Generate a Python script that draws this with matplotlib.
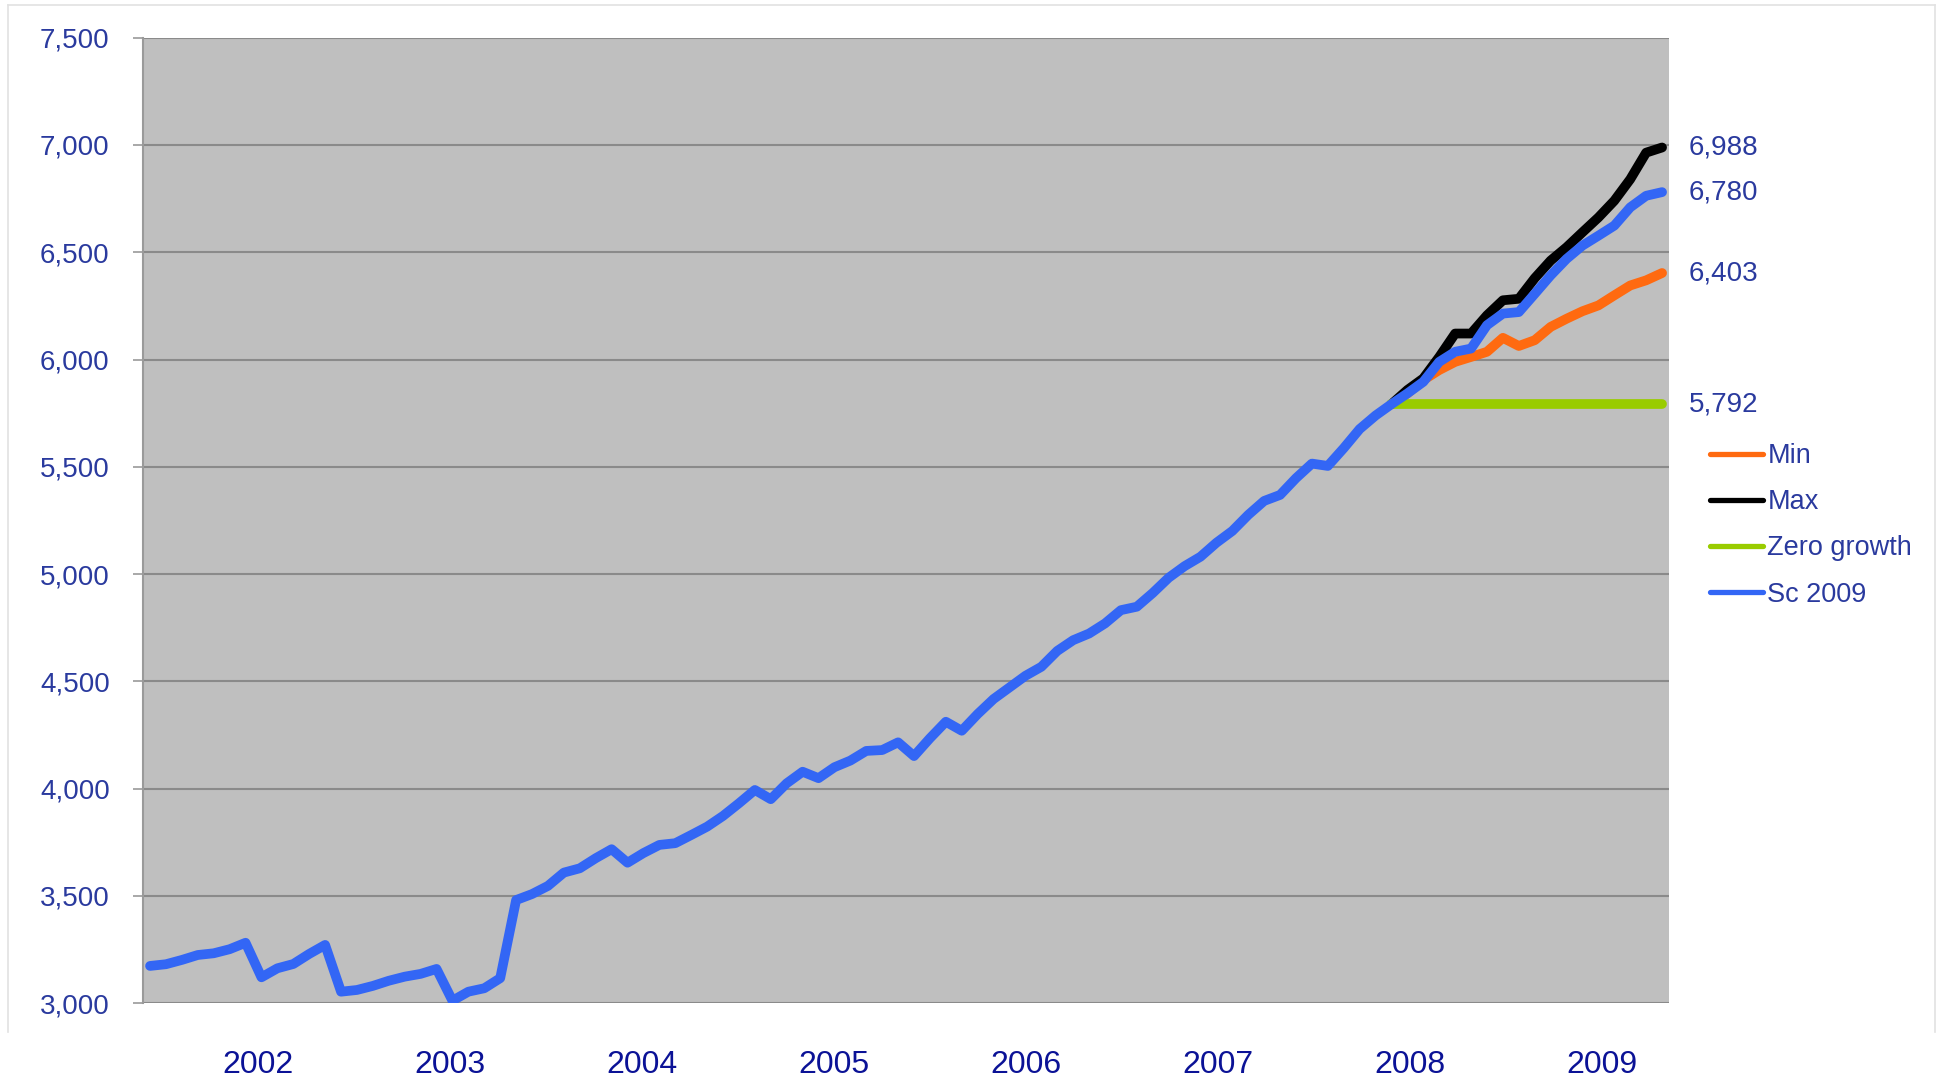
import numpy as np
import matplotlib
matplotlib.use("Agg")
import matplotlib.pyplot as plt
from matplotlib.lines import Line2D

plt.rcParams['font.family'] = ['Liberation Sans', 'DejaVu Sans']

# monthly series, Dec 2001 .. Nov 2009
sc2009 = [3174, 3182, 3202, 3225, 3233, 3252, 3282, 3121, 3163, 3183,
          3230, 3272, 3054, 3062, 3081, 3105, 3124, 3137, 3160, 3012,
          3054, 3070, 3117, 3481, 3509, 3547, 3609, 3629, 3676, 3718,
          3655, 3700, 3738, 3746, 3784, 3823, 3873, 3932, 3994, 3951,
          4025, 4079, 4049, 4100, 4131, 4176, 4180, 4216, 4152, 4235,
          4312, 4270, 4348, 4418, 4472, 4526, 4568, 4642, 4692, 4723,
          4770, 4832, 4848, 4912, 4983, 5037, 5081, 5146, 5201, 5276,
          5341, 5369, 5447, 5515, 5504, 5587, 5676, 5739, 5792, 5842,
          5896, 5989, 6036, 6051, 6160, 6214, 6221, 6306, 6392, 6469,
          6531, 6577, 6624, 6709, 6763, 6780]
# scenarios start from the last actual month (index 78)
start = 78
min_vals = [5792, 5842, 5904, 5951, 5989, 6012, 6036, 6101, 6063, 6090,
            6152, 6190, 6225, 6252, 6299, 6345, 6369, 6403]
max_vals = [5792, 5858, 5912, 6012, 6121, 6121, 6206, 6276, 6283, 6379,
            6461, 6523, 6593, 6662, 6740, 6840, 6964, 6988]
zero_vals = [5792] * 18

years = ['2002', '2003', '2004', '2005', '2006', '2007', '2008', '2009']
end_labels = ['6,988', '6,780', '6,403', '5,792']
end_values = [6988, 6780, 6403, 5792]

x = np.arange(len(sc2009))
xs = np.arange(start, start + len(min_vals))

fig = plt.figure(figsize=(19.41, 10.81), dpi=100)
ax = fig.add_axes([0.0737, 0.0719, 0.7862, 0.8933])
ax.set_facecolor('#bfbfbf')

lw = 7
ax.plot(xs, min_vals, color='#ff6a10', lw=lw, solid_capstyle='round', label='Min')
ax.plot(xs, max_vals, color='black', lw=lw, solid_capstyle='round', label='Max')
ax.plot(xs, zero_vals, color='#99cc00', lw=lw, solid_capstyle='round', label='Zero growth')
ax.plot(x, sc2009, color='#3366f5', lw=lw, solid_capstyle='round', label='Sc 2009')

ax.set_ylim(3000, 7500)
ax.set_xlim(-0.44, 95.44)
ax.set_yticks(np.arange(3000, 7501, 500))
ax.set_yticklabels(['{:,}'.format(v) for v in range(3000, 7501, 500)])
ax.yaxis.grid(True, color='#8a8a8a', lw=1.5)
ax.set_axisbelow(True)

year_pos = 6.8 + 12.06 * np.arange(len(years))
ax.set_xticks(year_pos)
ax.set_xticklabels(years)

ax.tick_params(axis='y', length=7, width=1.2, color='#999999', pad=17,
               labelsize=20, labelcolor='#2a3a9e')
ax.tick_params(axis='x', length=0, pad=34, labelsize=23, labelcolor='#0b1296')

for side in ['top', 'right', 'bottom']:
    ax.spines[side].set_visible(False)
ax.spines['left'].set_color('#9a9a9a')
ax.spines['left'].set_linewidth(1.5)

# value labels at the end of each series
for lab, val in zip(end_labels, end_values):
    ax.text(96.7, val, lab, fontsize=20, color='#2a3a9e', va='center', ha='left',
            clip_on=False)

leg = ax.legend(loc='upper left', bbox_to_anchor=(1.02, 0.591), frameon=False,
                fontsize=19.5, handlelength=1.95, handletextpad=0.15,
                labelspacing=0.74, borderaxespad=0)
for t in leg.get_texts():
    t.set_color('#2a3a9e')
for h in leg.get_lines():
    h.set_linewidth(3.8)

# faint slide frame
frame_c = '#e2e2e2'
fig.add_artist(Line2D([0.004, 0.004], [0.045, 0.995], color=frame_c, lw=1.2))
fig.add_artist(Line2D([0.004, 0.997], [0.995, 0.995], color=frame_c, lw=1.2))
fig.add_artist(Line2D([0.997, 0.997], [0.045, 0.995], color=frame_c, lw=1.2))

fig.savefig('out.png', dpi=100)
